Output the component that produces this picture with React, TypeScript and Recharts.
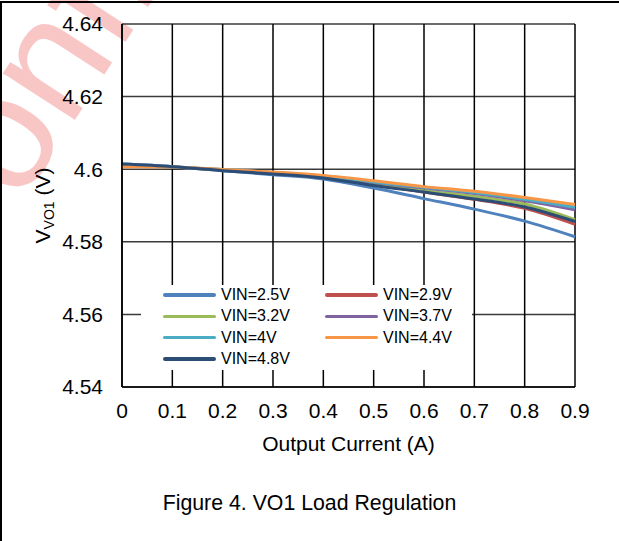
import { LineChart, Line, XAxis, YAxis, CartesianGrid, Legend, Label } from 'recharts';

// Output current sweep (A)
const current = [0, 0.1, 0.2, 0.3, 0.4, 0.5, 0.6, 0.7, 0.8, 0.9];

// VO1 output voltage (V) for each input voltage
const vin25 = [4.6014, 4.6007, 4.5996, 4.5985, 4.5973, 4.5948, 4.5919, 4.589, 4.5857, 4.5814];
const vin29 = [4.6013, 4.6006, 4.5998, 4.5988, 4.5977, 4.5957, 4.5937, 4.5917, 4.5892, 4.5848];
const vin32 = [4.6012, 4.6006, 4.5998, 4.599, 4.5979, 4.5959, 4.5941, 4.5925, 4.5904, 4.5861];
const vin37 = [4.6012, 4.6006, 4.5998, 4.5991, 4.598, 4.5963, 4.5948, 4.5933, 4.5913, 4.5888];
const vin40 = [4.601, 4.6006, 4.5999, 4.5991, 4.5981, 4.5965, 4.595, 4.5936, 4.5917, 4.5895];
const vin44 = [4.6007, 4.6006, 4.5999, 4.5992, 4.5983, 4.5968, 4.5952, 4.5939, 4.5922, 4.5903];
const vin48 = [4.6014, 4.6007, 4.5996, 4.5987, 4.5976, 4.5955, 4.5937, 4.5918, 4.5896, 4.5856];

const yTicks = [4.54, 4.56, 4.58, 4.6, 4.62, 4.64];

const series = [
  { key: 'vin25', name: 'VIN=2.5V', color: '#4F81BD', values: vin25 },
  { key: 'vin29', name: 'VIN=2.9V', color: '#C0504D', values: vin29 },
  { key: 'vin32', name: 'VIN=3.2V', color: '#9BBB59', values: vin32 },
  { key: 'vin37', name: 'VIN=3.7V', color: '#8064A2', values: vin37 },
  { key: 'vin40', name: 'VIN=4V', color: '#4BACC6', values: vin40 },
  { key: 'vin44', name: 'VIN=4.4V', color: '#F79646', values: vin44 },
  { key: 'vin48', name: 'VIN=4.8V', color: '#2C4D75', values: vin48 },
];

const rows = current.map((c, i) => {
  const row: Record<string, number> = { current: c };
  series.forEach((s) => {
    row[s.key] = s.values[i];
  });
  return row;
});

const FONT = '"Liberation Sans", Arial, sans-serif';

// two-column legend box with a white background over the grid
function LoadLegend(props: any) {
  const order = (v: string) => series.findIndex((s) => s.name === v);
  const items = [...(props.payload || [])].sort((a: any, b: any) => order(a.value) - order(b.value));
  return (
    <div style={{ position: 'relative', width: 331, height: 85, background: '#fff' }}>
      {items.map((item: any, i: number) => (
        <div
          key={item.value}
          style={{
            position: 'absolute',
            left: 22 + (i % 2) * 162,
            top: Math.floor(i / 2) * 21.3,
            height: 20,
            display: 'flex',
            alignItems: 'center',
          }}
        >
          <span style={{ width: 53, height: 3.5, background: item.color, borderRadius: 2, marginRight: 5 }} />
          <span style={{ fontSize: 16, lineHeight: '20px', color: '#000', whiteSpace: 'nowrap' }}>{item.value}</span>
        </div>
      ))}
    </div>
  );
}

function VoltageLabel(props: any) {
  const vb = props.viewBox || { x: 0, y: 0, width: 0, height: 0 };
  const cx = vb.x + 50;
  const cy = vb.y + vb.height / 2;
  return (
    <text x={cx} y={cy} transform={`rotate(-90 ${cx} ${cy})`} textAnchor="middle" fontSize={21} fill="#000">
      V
      <tspan fontSize={14} dy={4}>VO1</tspan>
      <tspan dy={-4}> (V)</tspan>
    </text>
  );
}

export default function App() {
  return (
    <div
      style={{
        position: 'absolute',
        left: 0,
        top: 0,
        width: 619,
        height: 541,
        background: '#fff',
        overflow: 'hidden',
        fontFamily: FONT,
      }}
    >
      {/* watermark */}
      <svg width={619} height={541} style={{ position: 'absolute', left: 0, top: 0 }}>
        <text x={-44} y={303} transform="rotate(-57 -44 303)" fontSize={162} fill="#f9c6c6" fontFamily={FONT}>
          Confidential
        </text>
      </svg>
      {/* page frame */}
      <div style={{ position: 'absolute', left: 0, top: 1, width: 619, height: 2, background: '#000' }} />
      <div style={{ position: 'absolute', left: 0, top: 1, width: 2, height: 540, background: '#000' }} />

      <div style={{ position: 'absolute', left: 0, top: 0 }}>
        <LineChart width={619} height={541} data={rows} margin={{ top: 24, right: 44, bottom: 104, left: 0 }}>
          <CartesianGrid vertical={false} stroke="#3a3a3a" strokeWidth={1.5} />
          <CartesianGrid horizontal={false} stroke="#000" strokeWidth={1.5} />
          <XAxis
            dataKey="current"
            type="number"
            domain={[0, 0.9]}
            ticks={current}
            interval={0}
            height={50}
            tickSize={0}
            tickMargin={16}
            tickLine={false}
            axisLine={{ stroke: '#000', strokeWidth: 1.5 }}
            tick={{ fill: '#000', fontSize: 21 }}
          >
            <Label value="Output Current (A)" position="bottom" offset={-1} fill="#000" fontSize={21} />
          </XAxis>
          <YAxis
            type="number"
            domain={[4.54, 4.64]}
            ticks={yTicks}
            interval={0}
            width={122}
            tickSize={0}
            tickMargin={19}
            tickLine={false}
            axisLine={{ stroke: '#000', strokeWidth: 1.5 }}
            tick={{ fill: '#000', fontSize: 21 }}
            tickFormatter={(v: number) => String(Number(v.toFixed(2)))}
          >
            <Label content={<VoltageLabel />} />
          </YAxis>
          <Legend
            layout="horizontal"
            align="center"
            verticalAlign="middle"
            content={<LoadLegend />}
            wrapperStyle={{ left: 141, top: 285, width: 331, height: 85 }}
          />
          {series.map((s) => (
            <Line
              key={s.key}
              dataKey={s.key}
              name={s.name}
              stroke={s.color}
              strokeWidth={3}
              type="monotone"
              dot={false}
              isAnimationActive={false}
            />
          ))}
        </LineChart>
      </div>

      <div
        style={{
          position: 'absolute',
          left: 0,
          top: 491,
          width: 619,
          textAlign: 'center',
          fontSize: 21.3,
          color: '#000',
        }}
      >
        Figure 4. VO1 Load Regulation
      </div>
    </div>
  );
}
